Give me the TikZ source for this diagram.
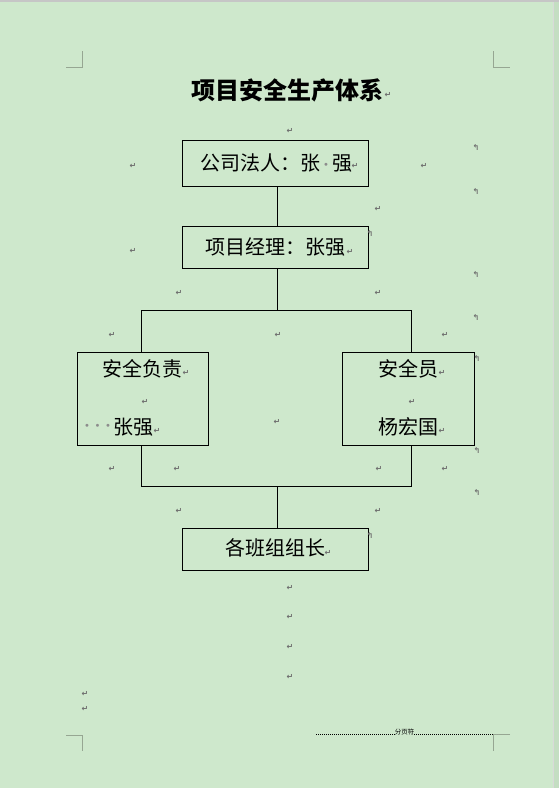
\documentclass[tikz,border=0pt]{standalone}
\usepackage{fontspec}
\newfontfamily\cjk{Noto Sans CJK SC}
\newfontfamily\symf{DejaVu Sans}
\definecolor{pagebg}{RGB}{206,232,204}
\definecolor{edgebg}{RGB}{196,222,194}
\definecolor{cornermk}{RGB}{150,166,146}
\definecolor{markgray}{RGB}{110,110,110}
\definecolor{dotgray}{RGB}{140,140,140}
\begin{document}
\begin{tikzpicture}[x=1pt,y=-1pt,
  boxn/.style={draw=black, line width=1pt, inner sep=0pt, anchor=north west},
  txt/.style={inner sep=0pt, font=\cjk\fontsize{20pt}{22pt}\selectfont},
  conn/.style={draw=black, line width=1pt},
  pma/.style={inner sep=0pt, text=markgray, font=\symf\bfseries\fontsize{8pt}{8pt}\selectfont},
  cmk/.style={draw=cornermk, line width=0.9pt}]
\useasboundingbox (0,0) rectangle (559,788);
\fill[pagebg] (0,0) rectangle (559,788);
\fill[edgebg] (553,0) rectangle (559,788);
\draw[gray!30, line width=0.6pt] (553,0) -- (553,788);
\fill[gray!45] (0,0) rectangle (559,1.5);
% corner marks
\draw[cmk] (66,67) -- (82,67) -- (82,51);
\draw[cmk] (493,51) -- (493,67) -- (510,67);
\draw[cmk] (66,735) -- (82,735) -- (82,751);
\draw[cmk] (510,734) -- (493,734) -- (493,751);
% title
\node[inner sep=0pt, font=\cjk\bfseries\fontsize{24pt}{26pt}\selectfont] (title) at (287.5,90) {项目安全生产体系};
% boxes
\node[boxn, minimum width=186pt, minimum height=46pt] (b1) at (182,140) {};
\node[boxn, minimum width=186pt, minimum height=42pt] (b2) at (182,226) {};
\node[boxn, minimum width=131pt, minimum height=93pt] (b3) at (77,352) {};
\node[boxn, minimum width=132pt, minimum height=93pt] (b4) at (342,352) {};
\node[boxn, minimum width=186pt, minimum height=42pt] (b5) at (182,528) {};
% texts
\node[txt] (t1) at (276,163) {公司法人：张\makebox[12pt]{\textcolor{dotgray}{\symf\fontsize{10pt}{10pt}\selectfont\raisebox{0.3ex}{•}}}强};
\node[txt] (t2) at (275,247) {项目经理：张强};
\node[txt] (t3a) at (142,369) {安全负责};
\node[txt] (t3b) at (133,427) {张强};
\node[inner sep=0pt, text=dotgray, font=\symf\fontsize{10pt}{10pt}\selectfont] (t3d) at (97.5,427) {•\hspace{4.6pt}•\hspace{4.6pt}•};
\node[txt] (t4a) at (408,369) {安全员};
\node[txt] (t4b) at (408,427) {杨宏国};
\node[txt] (t5) at (275,548) {各班组组长};
% connectors
\coordinate (jt) at (277,310);
\coordinate (jl) at (141,310);
\coordinate (jr) at (411,310);
\coordinate (kt) at (277,486);
\coordinate (kl) at (141,486);
\coordinate (kr) at (411,486);
\draw[conn] (b1.south -| jt) -- (b2.north -| jt);
\draw[conn] (b2.south -| jt) -- (jt);
\draw[conn] (b3.north -| jl) -- (jl) -- (jr) -- (b4.north -| jr);
\draw[conn] (b3.south -| kl) -- (kl) -- (kr) -- (b4.south -| kr);
\draw[conn] (kt) -- (b5.north -| kt);
% paragraph marks
\foreach \p [count=\i] in {(388,95),(290,131),(133,166),(355,166),(424,166),(378,209),(133,251),(350,252),
  (179,293),(378,293),(112,335),(278,335),(445,335),(186,373),(145,402),(157,431),(442,373),(412,402),
  (442,431),(277,422),(112,469),(177,469),(379,469),(445,469),(179,511),(378,511),(328,553),
  (290,588),(290,617),(290,647),(290,677),(85,694),(85,709)}
  \node[pma] (ma\i) at \p {↵};
\foreach \p [count=\i] in {(476,147),(476,191),(370,233),(476,274),(476,317),(477,358),(477,450),(477,492),(370,535)}
  \node[pma] (mb\i) at \p {↰};
% page break
\node[inner sep=0pt, font=\cjk\fontsize{6.5pt}{7pt}\selectfont] (pb) at (404.5,732) {分页符};
\coordinate (pl) at (316,734);
\coordinate (pr) at (493,734);
\draw[black, line width=1pt, dash pattern=on 1pt off 1pt] (pl) -- (pb.west |- pl);
\draw[black, line width=1pt, dash pattern=on 1pt off 1pt] (pb.east |- pr) -- (pr);
\end{tikzpicture}
\end{document}
